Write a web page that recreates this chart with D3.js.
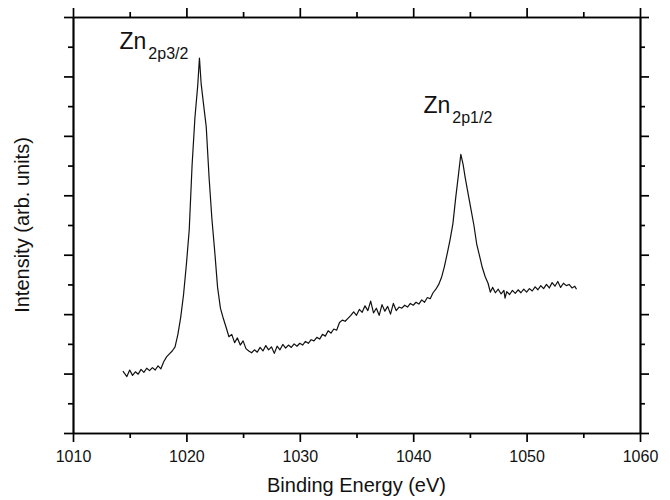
<!DOCTYPE html>
<html>
<head>
<meta charset="utf-8">
<script src="https://cdn.jsdelivr.net/npm/d3@7"></script>
<style>
  body { margin: 0; background: #fff; }
  svg { font-family: "Liberation Sans", Arial, sans-serif; }
</style>
</head>
<body>
<svg width="670" height="500"></svg>
<script>
// Zn 2p spectrum
var energy = [
  1014.4, 1014.75, 1015, 1015.25, 1015.5, 1015.75, 1016, 1016.25, 1016.5, 1016.75,
  1017, 1017.25, 1017.5, 1017.75, 1018, 1018.25, 1018.5, 1018.75, 1019, 1019.25,
  1019.5, 1019.75, 1020, 1020.25, 1020.5, 1020.75, 1021, 1021.15, 1021.3, 1021.5,
  1021.75, 1022, 1022.25, 1022.5, 1022.75, 1023, 1023.25, 1023.5, 1023.75, 1024,
  1024.25, 1024.5, 1024.75, 1025, 1025.25, 1025.5, 1025.75, 1026, 1026.25, 1026.5,
  1026.75, 1027, 1027.25, 1027.5, 1027.75, 1028, 1028.25, 1028.5, 1028.75, 1029,
  1029.25, 1029.5, 1029.75, 1030, 1030.25, 1030.5, 1030.75, 1031, 1031.25, 1031.5,
  1031.75, 1032, 1032.25, 1032.5, 1032.75, 1033, 1033.25, 1033.5, 1033.75, 1034,
  1034.25, 1034.5, 1034.75, 1035, 1035.25, 1035.5, 1035.75, 1036, 1036.25, 1036.5,
  1036.75, 1037, 1037.25, 1037.5, 1037.75, 1038, 1038.25, 1038.5, 1038.75, 1039,
  1039.25, 1039.5, 1039.75, 1040, 1040.25, 1040.5, 1040.75, 1041, 1041.25, 1041.5,
  1041.75, 1042, 1042.25, 1042.5, 1042.75, 1043, 1043.25, 1043.5, 1043.75, 1044,
  1044.2, 1044.4, 1044.6, 1044.85, 1045.1, 1045.35, 1045.6, 1045.85, 1046.1, 1046.35,
  1046.6, 1046.8, 1047, 1047.25, 1047.5, 1047.75, 1048, 1048.1, 1048.25, 1048.5,
  1048.75, 1049, 1049.25, 1049.5, 1049.75, 1050, 1050.25, 1050.5, 1050.75, 1051,
  1051.25, 1051.5, 1051.75, 1052, 1052.25, 1052.5, 1052.75, 1053, 1053.25, 1053.5,
  1053.75, 1054, 1054.25, 1054.4
];
var intensity = [
  1.04, 0.95, 1.06, 0.97, 1.03, 0.99, 1.07, 1.02, 1.09, 1.05,
  1.10, 1.06, 1.13, 1.08, 1.20, 1.28, 1.33, 1.38, 1.45, 1.66,
  1.95, 2.33, 2.84, 3.42, 4.50, 5.30, 5.85, 6.31, 5.88, 5.55,
  5.15, 4.30, 3.60, 3.05, 2.45, 2.10, 1.93, 1.78, 1.62, 1.66,
  1.52, 1.60, 1.48, 1.55, 1.42, 1.38, 1.35, 1.40, 1.36, 1.44,
  1.38, 1.47, 1.40, 1.45, 1.34, 1.46, 1.40, 1.49, 1.43, 1.48,
  1.44, 1.50, 1.46, 1.51, 1.48, 1.54, 1.51, 1.57, 1.55, 1.61,
  1.58, 1.66, 1.63, 1.72, 1.68, 1.75, 1.73, 1.86, 1.90, 1.88,
  1.93, 1.98, 2.04, 1.98, 2.08, 2.03, 2.14, 2.06, 2.22, 2.02,
  2.10, 1.98, 2.16, 2.05, 2.13, 2.00, 2.18, 2.06, 2.12, 2.10,
  2.15, 2.12, 2.18, 2.15, 2.20, 2.17, 2.24, 2.20, 2.28, 2.26,
  2.36, 2.42, 2.50, 2.62, 2.80, 3.02, 3.25, 3.52, 3.96, 4.36,
  4.69, 4.52, 4.28, 4.02, 3.76, 3.50, 3.18, 2.98, 2.78, 2.63,
  2.52, 2.37, 2.45, 2.36, 2.42, 2.34, 2.40, 2.27, 2.38, 2.33,
  2.40, 2.35, 2.41, 2.36, 2.42, 2.37, 2.43, 2.39, 2.46, 2.41,
  2.48, 2.43, 2.50, 2.44, 2.53, 2.47, 2.55, 2.45, 2.52, 2.48,
  2.50, 2.44, 2.47, 2.42
];

// tick values
var xMajor = [1010, 1020, 1030, 1040, 1050, 1060];
var xMinor = [1015, 1025, 1035, 1045, 1055];
var yMajor = [0, 1, 2, 3, 4, 5, 6, 7];
var yMinor = [0.5, 1.5, 2.5, 3.5, 4.5, 5.5, 6.5];

// peak labels: [main, subscript, energy, intensity]
var peakLabels = [
  ["Zn", "2p3/2", 1014.1, 6.46],
  ["Zn", "2p1/2", 1040.9, 5.38]
];

var margin = {left: 73, right: 30, top: 17, bottom: 67};
var width = 670, height = 500;

var svg = d3.select("svg");

var x = d3.scaleLinear().domain([1010, 1060]).range([margin.left, width - margin.right]);
var y = d3.scaleLinear().domain([0, 7]).range([height - margin.bottom, margin.top]);

function styleAxis(g) {
  g.select(".domain").attr("stroke", "#000").attr("stroke-width", 1.7);
  g.selectAll(".tick line").attr("stroke", "#000").attr("stroke-width", 1.7);
  g.selectAll(".tick text").attr("fill", "#111").style("font-size", "16px");
}

// bottom axis
svg.append("g")
  .attr("transform", "translate(0," + y(0) + ")")
  .call(d3.axisBottom(x).tickValues(xMajor).tickSize(9).tickSizeOuter(0).tickPadding(9).tickFormat(d3.format("d")))
  .call(styleAxis);
svg.append("g")
  .attr("transform", "translate(0," + y(0) + ")")
  .call(d3.axisBottom(x).tickValues(xMinor).tickSize(5).tickSizeOuter(0).tickFormat(""))
  .call(styleAxis);

// top axis
svg.append("g")
  .attr("transform", "translate(0," + y(7) + ")")
  .call(d3.axisTop(x).tickValues(xMajor).tickSize(9).tickSizeOuter(0).tickFormat(""))
  .call(styleAxis);
svg.append("g")
  .attr("transform", "translate(0," + y(7) + ")")
  .call(d3.axisTop(x).tickValues(xMinor).tickSize(5).tickSizeOuter(0).tickFormat(""))
  .call(styleAxis);

// left axis
svg.append("g")
  .attr("transform", "translate(" + x(1010) + ",0)")
  .call(d3.axisLeft(y).tickValues(yMajor).tickSize(9).tickSizeOuter(0).tickFormat(""))
  .call(styleAxis);
svg.append("g")
  .attr("transform", "translate(" + x(1010) + ",0)")
  .call(d3.axisLeft(y).tickValues(yMinor).tickSize(5).tickSizeOuter(0).tickFormat(""))
  .call(styleAxis);

// right axis
svg.append("g")
  .attr("transform", "translate(" + x(1060) + ",0)")
  .call(d3.axisRight(y).tickValues(yMajor).tickSize(9).tickSizeOuter(0).tickFormat(""))
  .call(styleAxis);
svg.append("g")
  .attr("transform", "translate(" + x(1060) + ",0)")
  .call(d3.axisRight(y).tickValues(yMinor).tickSize(5).tickSizeOuter(0).tickFormat(""))
  .call(styleAxis);

// spectrum line
var line = d3.line()
  .x(function(d) { return x(d[0]); })
  .y(function(d) { return y(d[1]); });

svg.append("path")
  .datum(d3.zip(energy, intensity))
  .attr("fill", "none")
  .attr("stroke", "#111")
  .attr("stroke-width", 1.2)
  .attr("stroke-linejoin", "round")
  .attr("d", line);

// peak labels
peakLabels.forEach(function(p) {
  var t = svg.append("text")
    .attr("x", x(p[2]))
    .attr("y", y(p[3]))
    .attr("fill", "#111")
    .style("font-size", "23px");
  t.append("tspan").text(p[0]);
  t.append("tspan").attr("dy", 10).attr("dx", 2).style("font-size", "16px").text(p[1]);
});

// axis titles
svg.append("text")
  .attr("x", (x(1010) + x(1060)) / 2)
  .attr("y", 492)
  .attr("text-anchor", "middle")
  .attr("fill", "#111")
  .style("font-size", "20px")
  .text("Binding Energy (eV)");

svg.append("text")
  .attr("transform", "translate(29," + (y(0) + y(7)) / 2 + ") rotate(-90)")
  .attr("text-anchor", "middle")
  .attr("fill", "#111")
  .style("font-size", "20px")
  .text("Intensity (arb. units)");
</script>
</body>
</html>
